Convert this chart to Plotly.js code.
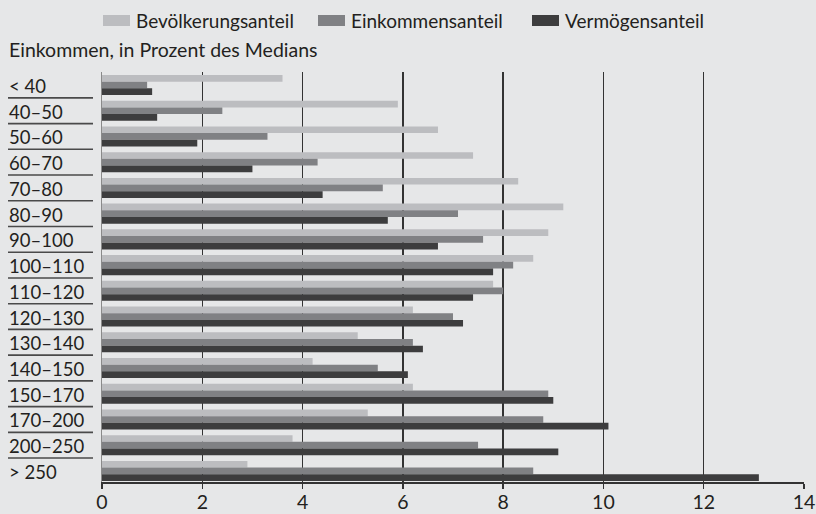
<!DOCTYPE html>
<html>
<head>
<meta charset="utf-8">
<script src="https://cdn.plot.ly/plotly-3.0.1.min.js"></script>
<style>
  html, body { margin: 0; padding: 0; background: #e6e7e8; }
  #chart { width: 816px; height: 514px; }
</style>
</head>
<body>
<div id="chart"></div>
<script>
// ---- data ----
const categories = ["< 40", "40–50", "50–60", "60–70", "70–80", "80–90", "90–100", "100–110",
                    "110–120", "120–130", "130–140", "140–150", "150–170", "170–200", "200–250", "> 250"];
const seriesNames = ["Bevölkerungsanteil", "Einkommensanteil", "Vermögensanteil"];
const bevoelkerung = [3.6, 5.9, 6.7, 7.4, 8.3, 9.2, 8.9, 8.6, 7.8, 6.2, 5.1, 4.2, 6.2, 5.3, 3.8, 2.9];
const einkommen    = [0.9, 2.4, 3.3, 4.3, 5.6, 7.1, 7.6, 8.2, 8.0, 7.0, 6.2, 5.5, 8.9, 8.8, 7.5, 8.6];
const vermoegen    = [1.0, 1.1, 1.9, 3.0, 4.4, 5.7, 6.7, 7.8, 7.4, 7.2, 6.4, 6.1, 9.0, 10.1, 9.1, 13.1];
const xTicks = [0, 2, 4, 6, 8, 10, 12, 14];
const subtitle = "Einkommen, in Prozent des Medians";

// ---- styling ----
const colors = ["#bcbdc0", "#808184", "#3d3d3e"];
const W = 816, H = 514;
const M = {l: 102, r: 12, t: 72, b: 32};
const FONT = "Lato, 'Open Sans', sans-serif";
const TXT = "#231f20";
const px2x = p => (p - M.l) / (W - M.l - M.r);
const py2y = p => (H - M.b - p) / (H - M.t - M.b);

const seriesValues = [bevoelkerung, einkommen, vermoegen];
const traces = seriesValues.map((vals, i) => ({
  type: "bar",
  orientation: "h",
  name: seriesNames[i],
  y: categories,
  x: vals,
  marker: {color: colors[i], line: {width: 0}},
  hoverinfo: "x+y+name"
}));

const shapes = [];
const annotations = [];

// category separators (underline under each label except last)
for (let k = 0; k < categories.length - 1; k++) {
  shapes.push({
    type: "line", xref: "paper", yref: "y",
    x0: px2x(8), x1: px2x(93), y0: k + 0.5, y1: k + 0.5,
    line: {color: "#4a4a4a", width: 1.6}
  });
}
// category labels, left-aligned
categories.forEach((c, k) => {
  annotations.push({
    xref: "paper", yref: "y", x: px2x(7), y: c, xanchor: "left", yanchor: "middle",
    text: c, showarrow: false, yshift: -1,
    font: {family: FONT, size: 18.5, color: TXT}
  });
});

// subtitle
annotations.push({
  xref: "paper", yref: "paper", x: px2x(7), y: py2y(50), xanchor: "left", yanchor: "middle",
  text: subtitle, showarrow: false, font: {family: FONT, size: 19.5, color: TXT}
});

// custom legend
const legendSwatchX = [103, 318, 532];
seriesNames.forEach((n, i) => {
  shapes.push({
    type: "rect", xref: "paper", yref: "paper",
    x0: px2x(legendSwatchX[i]), x1: px2x(legendSwatchX[i] + 27),
    y0: py2y(26), y1: py2y(15),
    fillcolor: colors[i], line: {width: 0}
  });
  annotations.push({
    xref: "paper", yref: "paper", x: px2x(legendSwatchX[i] + 31), y: py2y(20.5),
    xanchor: "left", yanchor: "middle", text: n, showarrow: false,
    font: {family: FONT, size: 19, color: TXT}
  });
});

const layout = {
  width: W, height: H,
  margin: M,
  paper_bgcolor: "#e6e7e8",
  plot_bgcolor: "#e6e7e8",
  showlegend: false,
  barmode: "group",
  bargap: 0.22,
  bargroupgap: 0,
  font: {family: FONT, color: TXT},
  xaxis: {
    range: [0, 14],
    tickvals: xTicks,
    ticktext: xTicks.map(String),
    showgrid: true, gridcolor: "#333333", gridwidth: 1.5,
    zeroline: false,
    showline: true, linecolor: "#333333", linewidth: 1.5,
    ticks: "outside", ticklen: 5, tickcolor: "#333333", tickwidth: 1.5,
    ticklabelstandoff: -3,
    tickfont: {family: FONT, size: 19.5, color: TXT},
    fixedrange: true
  },
  yaxis: {
    type: "category",
    range: [15.43, -0.505],
    showticklabels: false,
    showgrid: false, zeroline: false,
    showline: true, linecolor: "#8a8a8a", linewidth: 1,
    ticks: "",
    fixedrange: true
  },
  shapes: shapes,
  annotations: annotations
};

Plotly.newPlot("chart", traces, layout, {displayModeBar: false, staticPlot: true});
</script>
</body>
</html>
